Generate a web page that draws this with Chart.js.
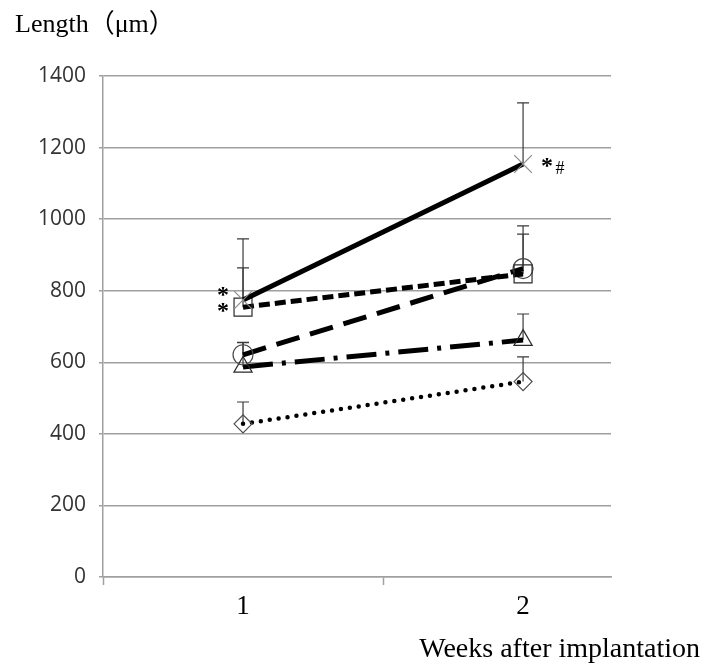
<!DOCTYPE html>
<html>
<head>
<meta charset="utf-8">
<script src="https://cdn.jsdelivr.net/npm/chart.js@4.4.1/dist/chart.umd.min.js"></script>
<style>
  html, body { margin: 0; padding: 0; background: #ffffff; }
  #wrap { width: 703px; height: 666px; position: relative; }
</style>
</head>
<body>
<div id="wrap"><canvas id="c" width="703" height="666"></canvas></div>
<script>
// ---- data ----
const weeks = [1, 2];
const yTicks = [0, 200, 400, 600, 800, 1000, 1200, 1400];

const crossMeans    = [774, 1154];   // solid line, X marker
const crossErr      = [171, 171];
const squareMeans   = [754, 847];    // short dash, square
const squareErr     = [110, 111];
const circleMeans   = [621, 862];    // long dash, circle
const circleErr     = [35, 119];
const triangleMeans = [587, 662];    // dash-dot, triangle
const triangleErr   = [68, 73];
const diamondMeans  = [428, 546];    // dotted, diamond
const diamondErr    = [61, 69];

const yTitle = 'Length（μm）';
const xTitle = 'Weeks after implantation';

const toPts = (arr) => weeks.map((w, i) => ({ x: w, y: arr[i] }));

const serif = "'Liberation Serif', 'Times New Roman', 'Noto Sans CJK JP', serif";

const errorBars = {
  id: 'errorBars',
  beforeDatasetsDraw(chart) {
    const ctx = chart.ctx;
    const xs = chart.scales.x, ys = chart.scales.y;
    ctx.save();
    ctx.strokeStyle = '#3a3a3a';
    ctx.lineWidth = 1.2;
    chart.data.datasets.forEach(ds => {
      ds.data.forEach((p, i) => {
        const px = xs.getPixelForValue(p.x);
        const py = ys.getPixelForValue(p.y);
        const pt = ys.getPixelForValue(p.y + ds.errUp[i]);
        ctx.beginPath();
        ctx.moveTo(px, py); ctx.lineTo(px, pt);
        ctx.moveTo(px - 6, pt); ctx.lineTo(px + 6, pt);
        ctx.stroke();
      });
    });
    ctx.restore();
  }
};

const annotations = {
  id: 'annotations',
  afterDraw(chart) {
    const ctx = chart.ctx;
    const xs = chart.scales.x, ys = chart.scales.y;
    ctx.save();
    ctx.fillStyle = '#000';
    ctx.textBaseline = 'alphabetic';
    // axis titles
    ctx.font = '26px ' + serif;
    ctx.textAlign = 'left';
    ctx.fillText(yTitle, 15, 32);
    ctx.font = '28px ' + serif;
    ctx.textAlign = 'right';
    ctx.fillText(xTitle, 700, 657);
    // significance marks
    ctx.textAlign = 'center';
    ctx.font = 'bold 24px ' + serif;
    const x1 = xs.getPixelForValue(weeks[0]);
    const x2 = xs.getPixelForValue(weeks[1]);
    ctx.fillText('*', x1 - 20, ys.getPixelForValue(crossMeans[0]) + 2);
    ctx.fillText('*', x1 - 20, ys.getPixelForValue(squareMeans[0]) + 11);
    ctx.fillText('*', x2 + 24, ys.getPixelForValue(crossMeans[1]) + 9);
    ctx.font = '18px ' + serif;
    ctx.fillText('#', x2 + 37, ys.getPixelForValue(crossMeans[1]) + 10);
    ctx.restore();
  }
};

const common = { borderColor: '#000', borderWidth: 5, pointBackgroundColor: 'rgba(0,0,0,0)', pointBorderWidth: 1.2, tension: 0, fill: false };

new Chart(document.getElementById('c'), {
  type: 'line',
  data: {
    datasets: [
      Object.assign({}, common, { label: 'X', data: toPts(crossMeans), errUp: crossErr, pointStyle: 'crossRot', pointRadius: 12.5, pointBorderColor: '#8a8a8a' }),
      Object.assign({}, common, { label: 'square', data: toPts(squareMeans), errUp: squareErr, pointStyle: 'rect', pointRadius: 12.7, pointBorderColor: '#2a2a2a', borderDash: [11, 5] }),
      Object.assign({}, common, { label: 'circle', data: toPts(circleMeans), errUp: circleErr, pointStyle: 'circle', pointRadius: 10, pointBorderColor: '#4a4a4a', borderDash: [24, 11] }),
      Object.assign({}, common, { label: 'triangle', data: toPts(triangleMeans), errUp: triangleErr, pointStyle: 'triangle', pointRadius: 10.5, pointBorderColor: '#2a2a2a', borderDash: [30, 9, 4, 9] }),
      Object.assign({}, common, { label: 'diamond', data: toPts(diamondMeans), errUp: diamondErr, pointStyle: 'rectRot', pointRadius: 9, pointBorderColor: '#4a4a4a', borderDash: [0, 9], borderCapStyle: 'round', borderWidth: 4.5 })
    ]
  },
  options: {
    responsive: false,
    devicePixelRatio: 1,
    animation: false,
    layout: { padding: { top: 76, right: 92, bottom: 0, left: 0 } },
    plugins: { legend: { display: false }, tooltip: { enabled: false } },
    scales: {
      x: {
        type: 'linear',
        min: 0.5,
        max: 2.314,
        afterBuildTicks: (s) => { s.ticks = [0.5, 1, 1.5, 2].map(v => ({ value: v })); },
        afterFit: (s) => { s.height = 89; },
        border: { display: true, color: '#a0a0a0', width: 1.5 },
        grid: {
          drawOnChartArea: false,
          drawTicks: true,
          tickLength: 8,
          tickWidth: 1.5,
          tickColor: (c) => (c.tick && Number.isInteger(c.tick.value)) ? 'rgba(0,0,0,0)' : '#a0a0a0'
        },
        ticks: {
          autoSkip: false,
          maxRotation: 0,
          padding: 6,
          color: '#000',
          font: { family: serif, size: 27 },
          callback: (v) => Number.isInteger(v) ? String(v) : ''
        }
      },
      y: {
        min: 0,
        max: 1400,
        afterBuildTicks: (s) => { s.ticks = yTicks.map(v => ({ value: v })); },
        afterFit: (s) => { s.width = 103; },
        border: { display: true, color: '#a0a0a0', width: 1.5 },
        grid: { color: '#a0a0a0', lineWidth: 1.5, tickLength: 4 },
        ticks: {
          padding: 13,
          color: '#333',
          font: { family: "'Open Sans', sans-serif", size: 21 },
          callback: (v) => String(v)
        }
      }
    }
  },
  plugins: [errorBars, annotations]
});
</script>
</body>
</html>
